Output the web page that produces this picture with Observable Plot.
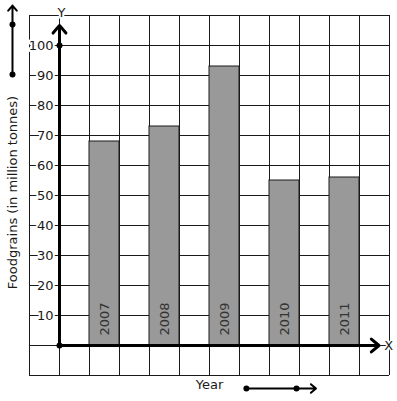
<!DOCTYPE html>
<html><head><meta charset="utf-8">
<script src="https://cdn.jsdelivr.net/npm/d3@7"></script>
<script src="https://cdn.jsdelivr.net/npm/@observablehq/plot@0.6"></script>
<style>html,body{margin:0;padding:0;background:#fff;} svg{display:block;}</style>
</head><body><div id="chart"></div>
<script>
const years = ["2007", "2008", "2009", "2010", "2011"];
const foodgrains = [68, 73, 93, 55, 56];
const yTickValues = [10, 20, 30, 40, 50, 60, 70, 80, 90, 100];
const gridXValues = [-1, 0, 1, 2, 3, 4, 5, 6, 7, 8, 9, 10, 11];
const gridYValues = [-10, 0, 10, 20, 30, 40, 50, 60, 70, 80, 90, 100, 110];
const yAxisLabel = "Foodgrains (in million tonnes)";
const xAxisLabel = "Year";
const yAxisName = "Y";
const xAxisName = "X";

const data = years.map((year, i) => ({year, value: foodgrains[i], slot: 2 * i + 1}));
const ink = "#1a1a1a";

const chart = Plot.plot({
  width: 397,
  height: 401,
  marginLeft: 29,
  marginRight: 8,
  marginTop: 15,
  marginBottom: 26,
  x: {domain: [-1, 11], axis: null},
  y: {domain: [-10, 110], axis: null},
  style: {fontFamily: "DejaVu Sans, sans-serif", fontSize: "13px", background: "#fff"},
  marks: [
    Plot.ruleX(gridXValues, {stroke: ink, strokeWidth: 1}),
    Plot.ruleY(gridYValues, {stroke: ink, strokeWidth: 1}),
    Plot.rectY(data, {x1: "slot", x2: d => d.slot + 1, y1: 0, y2: "value", fill: "#999999", stroke: ink, strokeWidth: 1}),
    Plot.text(data, {x: d => d.slot + 0.5, y: 0, text: "year", rotate: -90, textAnchor: "start", dy: -10, fill: "#333", fontSize: 13}),
    // axes
    Plot.arrow([0], {x1: 0, y1: 0, x2: 0, y2: 106.7, stroke: "#000", strokeWidth: 3, headLength: 5, headAngle: 80}),
    Plot.arrow([0], {x1: 0, y1: 0, x2: 10.65, y2: 0, stroke: "#000", strokeWidth: 3, headLength: 5, headAngle: 80}),
    Plot.dot([[0, 0], [0, 100]], {x: d => d[0], y: d => d[1], r: 3, fill: "#000"}),
    Plot.text(yTickValues, {x: 0, y: d => d, text: d => String(d), textAnchor: "end", dx: -6, fill: ink, stroke: "#fff", strokeWidth: 4, paintOrder: "stroke"}),
    Plot.text([yAxisName], {x: 0, y: 110, text: d => d, dy: -3, dx: 2, fill: ink, stroke: "#fff", strokeWidth: 4, paintOrder: "stroke"}),
    Plot.text([xAxisName], {x: 10.97, y: 0, text: d => d, fill: ink, stroke: "#fff", strokeWidth: 3, paintOrder: "stroke"}),
    // axis labels
    Plot.text([yAxisLabel], {frameAnchor: "left", text: d => d, rotate: -90, textAnchor: "middle", dx: -17, dy: -3, fill: ink}),
    Plot.text([xAxisLabel], {frameAnchor: "bottom", text: d => d, textAnchor: "middle", dy: 13, fill: ink}),
    // direction arrows
    Plot.arrow([{x: -1.567, a: 90.3, b: 113.3}], {x1: "x", y1: "a", x2: "x", y2: "b", stroke: "#000", strokeWidth: 2, headLength: 5, headAngle: 80}),
    Plot.dot([{x: -1.567, y: 90.3}, {x: -1.567, y: 107}], {x: "x", y: "y", r: 3, fill: "#000"}),
    Plot.arrow([0], {x1: 6.23, y1: -14.33, x2: 8.55, y2: -14.33, stroke: "#000", strokeWidth: 2, headLength: 5, headAngle: 80}),
    Plot.dot([6.23, 7.9], {x: d => d, y: -14.33, r: 3, fill: "#000"})
  ]
});
document.getElementById("chart").appendChild(chart);
</script>
</body></html>
